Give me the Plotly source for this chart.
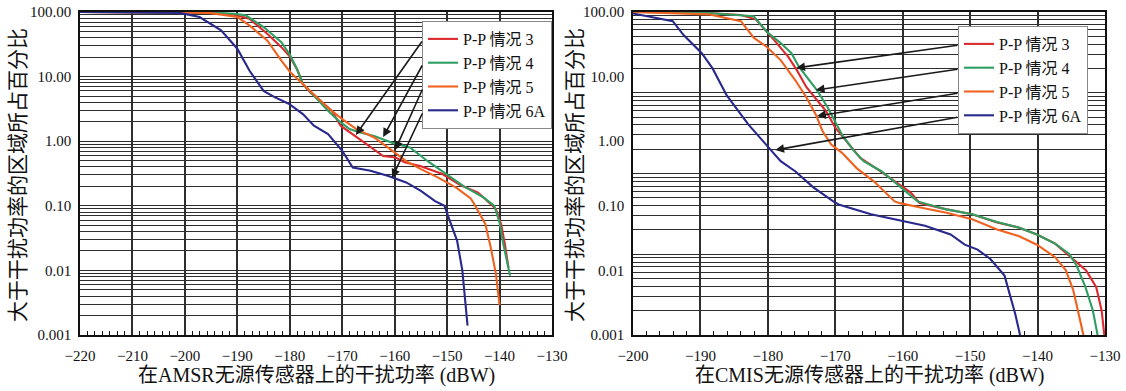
import math
import plotly.graph_objects as go

W, H = 1126, 391

# ---------------- data: AMSR (left) ----------------
amsr_c3_x = [-220, -200, -195, -191, -187.7, -184.3, -181.6, -179.9, -178.5, -177.5, -176.1, -174.1, -172, -170.3, -168, -165.2, -162.2, -159.8, -158.1, -155, -150.9, -147.5, -144.1, -142.7, -140.7, -139.7, -139, -138.3]
amsr_c3_y = [100, 99.5, 97, 92, 78.7, 46, 28.6, 20, 12.4, 7.7, 5.7, 4.2, 2.96, 1.74, 1.29, 0.89, 0.59, 0.56, 0.47, 0.41, 0.31, 0.21, 0.16, 0.126, 0.089, 0.052, 0.026, 0.011]

amsr_c4_x = [-220, -200, -195, -190.5, -188.4, -185, -181.6, -179.9, -178.8, -177.5, -175.4, -172.7, -170.7, -168.6, -166.6, -163.9, -160.5, -157.1, -153.7, -150.2, -146.8, -143, -141, -140, -139.3, -138]
amsr_c4_y = [100, 99.8, 98, 94, 88.7, 58.5, 34.2, 21.2, 14, 7.7, 5.0, 2.96, 2.08, 1.54, 1.36, 1.2, 0.95, 0.8, 0.49, 0.31, 0.2, 0.134, 0.1, 0.055, 0.026, 0.0083]

amsr_c5_x = [-220, -200, -195, -190, -187.7, -184.3, -181.6, -179.9, -177.5, -175.4, -172.7, -170, -167.3, -163.9, -160.5, -157.8, -155, -151.6, -148.2, -145.5, -144.8, -142.7, -141.7, -140.7, -140]
amsr_c5_y = [100, 99.5, 96, 83.6, 62, 36.3, 17.7, 11.7, 7.7, 5.4, 3.3, 2.2, 1.54, 1.14, 0.71, 0.49, 0.37, 0.27, 0.19, 0.13, 0.106, 0.052, 0.023, 0.0089, 0.0029]

amsr_c6a_x = [-220, -205, -201, -197.2, -193.1, -190, -187.7, -185, -182.9, -180.2, -177.5, -175.4, -172.7, -170, -168, -164.6, -161.2, -157.8, -155, -152.3, -150.5, -149.5, -148.1, -147.1, -146.1]
amsr_c6a_y = [100, 99.5, 97, 83.6, 51.9, 27, 12.4, 6.0, 4.8, 3.8, 2.63, 1.74, 1.29, 0.71, 0.39, 0.35, 0.29, 0.23, 0.17, 0.118, 0.1, 0.059, 0.029, 0.01, 0.0014]

# ---------------- data: CMIS (right) ----------------
cmis_c3_x = [-200, -190, -184, -181.8, -179.1, -177, -175.7, -174.3, -172.7, -171.4, -170, -168.4, -166.3, -163.6, -160.9, -158.8, -157.5, -153.5, -149.7, -146, -142.8, -140.1, -137.4, -135.3, -132.8, -131.3, -130.5, -130.1]
cmis_c3_y = [100, 98, 90, 77, 37, 20.4, 12.6, 6.9, 4.3, 2.96, 1.62, 1.0, 0.55, 0.36, 0.23, 0.16, 0.11, 0.088, 0.074, 0.055, 0.046, 0.036, 0.026, 0.017, 0.01, 0.0055, 0.0024, 0.001]

cmis_c4_x = [-200, -190, -182.1, -180.2, -178.1, -176.5, -175.4, -173.8, -172.7, -171.1, -169, -167.4, -165.8, -163.1, -160.4, -157.8, -153.5, -149.7, -146, -142.8, -140.1, -137.4, -135.3, -134.2, -132.9, -131.8, -131.1]
cmis_c4_y = [100, 98, 86, 50, 33, 23, 14.2, 8.7, 6.1, 3.3, 1.26, 0.74, 0.49, 0.34, 0.195, 0.117, 0.088, 0.074, 0.056, 0.046, 0.036, 0.026, 0.018, 0.0118, 0.0055, 0.0024, 0.001]

cmis_c5_x = [-200, -188.8, -184, -182.1, -180.2, -178.1, -175.9, -174.3, -172.9, -171.9, -170.6, -169, -166.8, -164.2, -161.2, -160.4, -157.2, -153.5, -149.7, -146, -142.8, -140.1, -137.4, -135.8, -134.7, -133.9, -133.2]
cmis_c5_y = [100, 92, 72, 40, 29, 18, 8.7, 4.8, 2.6, 1.44, 0.89, 0.66, 0.38, 0.235, 0.117, 0.11, 0.093, 0.078, 0.062, 0.043, 0.034, 0.025, 0.016, 0.01, 0.0049, 0.0021, 0.001]

cmis_c6a_x = [-200, -194.1, -192.5, -189.8, -188.2, -186.1, -182.9, -179.9, -178.1, -175.9, -173.3, -170.3, -169.5, -164.7, -159.9, -156.7, -152.9, -150.8, -148.9, -147, -144.9, -143.3, -142.6]
cmis_c6a_y = [95, 72, 44, 23, 13.4, 5.1, 1.82, 0.79, 0.49, 0.34, 0.195, 0.117, 0.105, 0.074, 0.058, 0.049, 0.036, 0.025, 0.021, 0.015, 0.0083, 0.0021, 0.001]

series_names = ["P-P 情况 3", "P-P 情况 4", "P-P 情况 5", "P-P 情况 6A"]
series_colors = ["#dc2a2e", "#2f9e62", "#f0621f", "#29288c"]

y_tickvals = [0.001, 0.01, 0.1, 1, 10, 100]
y_ticktext = ["0.001", "0.01", "0.10", "1.00", "10.00", "100.00"]

x_title_left = "在AMSR无源传感器上的干扰功率 (dBW)"
x_title_right = "在CMIS无源传感器上的干扰功率 (dBW)"
y_title = "大于干扰功率的区域所占百分比"

# arrow targets (x, value) on the curves
amsr_arrow_heads = [(-167.4, 1.25), (-162.2, 1.16), (-159.9, 0.73), (-160.5, 0.27)]
cmis_arrow_heads = [(-175.8, 13.6), (-172.9, 6.2), (-172.7, 2.45), (-178.9, 0.73)]

# ---------------- layout geometry (pixels) ----------------
TOP, BOT = 12, 335
L1, R1 = 80, 552
L2, R2 = 633, 1105
FONT = "'Liberation Serif', 'Times New Roman', 'Noto Sans CJK SC', serif"
GRID = "#2e2e2e"

fig = go.Figure()

left_sets = [(amsr_c3_x, amsr_c3_y), (amsr_c4_x, amsr_c4_y), (amsr_c5_x, amsr_c5_y), (amsr_c6a_x, amsr_c6a_y)]
right_sets = [(cmis_c3_x, cmis_c3_y), (cmis_c4_x, cmis_c4_y), (cmis_c5_x, cmis_c5_y), (cmis_c6a_x, cmis_c6a_y)]

# empty trace so the gridline-only overlay axis of the right panel is created
fig.add_trace(go.Scatter(x=[], y=[], xaxis="x2", yaxis="y3", showlegend=False, hoverinfo="skip"))

for (xs, ys), name, col in zip(left_sets, series_names, series_colors):
    fig.add_trace(go.Scatter(x=xs, y=ys, mode="lines", name=name, line=dict(color=col, width=2.1),
                             xaxis="x", yaxis="y", legend="legend"))
for (xs, ys), name, col in zip(right_sets, series_names, series_colors):
    fig.add_trace(go.Scatter(x=xs, y=ys, mode="lines", name=name, line=dict(color=col, width=2.1),
                             xaxis="x2", yaxis="y2", legend="legend2"))

minor_vals = [m * 10 ** k for k in range(-3, 2) for m in range(2, 10)]
ydom = [1 - BOT / H, 1 - TOP / H]

common_y = dict(type="log", range=[-3, 2], tickvals=y_tickvals, ticktext=y_ticktext,
                tickfont=dict(family=FONT, size=15, color="#111"),
                showline=True, mirror=True, linecolor="#111", linewidth=1.5,
                ticks="", ticklabelstandoff=4, domain=ydom, automargin=False, zeroline=False)
common_x = dict(tickfont=dict(family=FONT, size=15, color="#111"), showline=True, mirror=True,
                linecolor="#111", linewidth=1.5, showgrid=True, gridcolor=GRID, gridwidth=1.6,
                ticks="", ticklabelstandoff=6, automargin=False, zeroline=False)

fig.update_layout(
    width=W, height=H, margin=dict(l=0, r=0, t=0, b=0),
    paper_bgcolor="white", plot_bgcolor="white",
    xaxis=dict(common_x, range=[-220, -130], tick0=-220, dtick=10, domain=[L1 / W, R1 / W], anchor="y",
               minor=dict(ticks="inside", ticklen=4, tickcolor="#111", tick0=-220, dtick=10 / 7, showgrid=False)),
    yaxis=dict(common_y, anchor="x", showgrid=True, gridcolor=GRID, gridwidth=1.3,
               minor=dict(tickvals=minor_vals, showgrid=True, gridcolor=GRID, gridwidth=1.3)),
    xaxis2=dict(common_x, range=[-200, -130], tick0=-200, dtick=10, domain=[L2 / W, R2 / W], anchor="y2",
                minor=dict(ticks="inside", ticklen=4, tickcolor="#111", tick0=-200, dtick=2, showgrid=False)),
    yaxis2=dict(common_y, anchor="x2", showgrid=False),
    yaxis3=dict(type="log", range=[-2, 2], overlaying="y2", anchor="x2", domain=ydom,
                showticklabels=False, ticks="", showline=False, zeroline=False, automargin=False,
                tickvals=[0.01, 0.1, 1, 10, 100], showgrid=True, gridcolor=GRID, gridwidth=1.3,
                minor=dict(tickvals=[m * 10 ** k for k in range(-2, 2) for m in range(2, 10)],
                           showgrid=True, gridcolor=GRID, gridwidth=1.3)),
    legend=dict(x=422 / W, y=1 - 21 / H, xanchor="left", yanchor="top", bgcolor="white",
                bordercolor="#888", borderwidth=1, font=dict(family=FONT, size=16, color="#111"),
                tracegroupgap=0),
    legend2=dict(x=958 / W, y=1 - 26 / H, xanchor="left", yanchor="top", bgcolor="white",
                 bordercolor="#888", borderwidth=1, font=dict(family=FONT, size=16, color="#111"),
                 tracegroupgap=0),
    showlegend=True,
)


def px_to_left(px, py):
    return -220 + (px - L1) * 90 / (R1 - L1), 2 - (py - TOP) * 5 / (BOT - TOP)


def px_to_right(px, py):
    return -200 + (px - L2) * 70 / (R2 - L2), 2 - (py - TOP) * 5 / (BOT - TOP)


ann = []
item_y_left = [40, 64, 88, 112]
item_y_right = [45, 69, 93, 117]
for (hx, hv), iy in zip(amsr_arrow_heads, item_y_left):
    tx, ty = px_to_left(423, iy)
    ann.append(dict(x=hx, y=math.log10(hv), xref="x", yref="y", ax=tx, ay=ty, axref="x", ayref="y",
                    showarrow=True, arrowhead=2, arrowsize=1.1, arrowwidth=1.6, arrowcolor="#1a1a1a", text=""))
for (hx, hv), iy in zip(cmis_arrow_heads, item_y_right):
    tx, ty = px_to_right(959, iy)
    ann.append(dict(x=hx, y=math.log10(hv), xref="x2", yref="y2", ax=tx, ay=ty, axref="x2", ayref="y2",
                    showarrow=True, arrowhead=2, arrowsize=1.1, arrowwidth=1.6, arrowcolor="#1a1a1a", text=""))

tfont = dict(family=FONT, size=20, color="#111")
ann.append(dict(x=(L1 + R1) / 2 / W, y=1 - 375 / H, xref="paper", yref="paper", text=x_title_left,
                showarrow=False, font=tfont, xanchor="center", yanchor="middle"))
ann.append(dict(x=(L2 + R2) / 2 / W, y=1 - 375 / H, xref="paper", yref="paper", text=x_title_right,
                showarrow=False, font=tfont, xanchor="center", yanchor="middle"))
yfont = dict(family=FONT, size=21, color="#111")
ann.append(dict(x=18 / W, y=1 - 175 / H, xref="paper", yref="paper", text=y_title, textangle=-90,
                showarrow=False, font=yfont, xanchor="center", yanchor="middle"))
ann.append(dict(x=575 / W, y=1 - 175 / H, xref="paper", yref="paper", text=y_title, textangle=-90,
                showarrow=False, font=yfont, xanchor="center", yanchor="middle"))
fig.update_layout(annotations=ann)

fig.write_html("out.html")
